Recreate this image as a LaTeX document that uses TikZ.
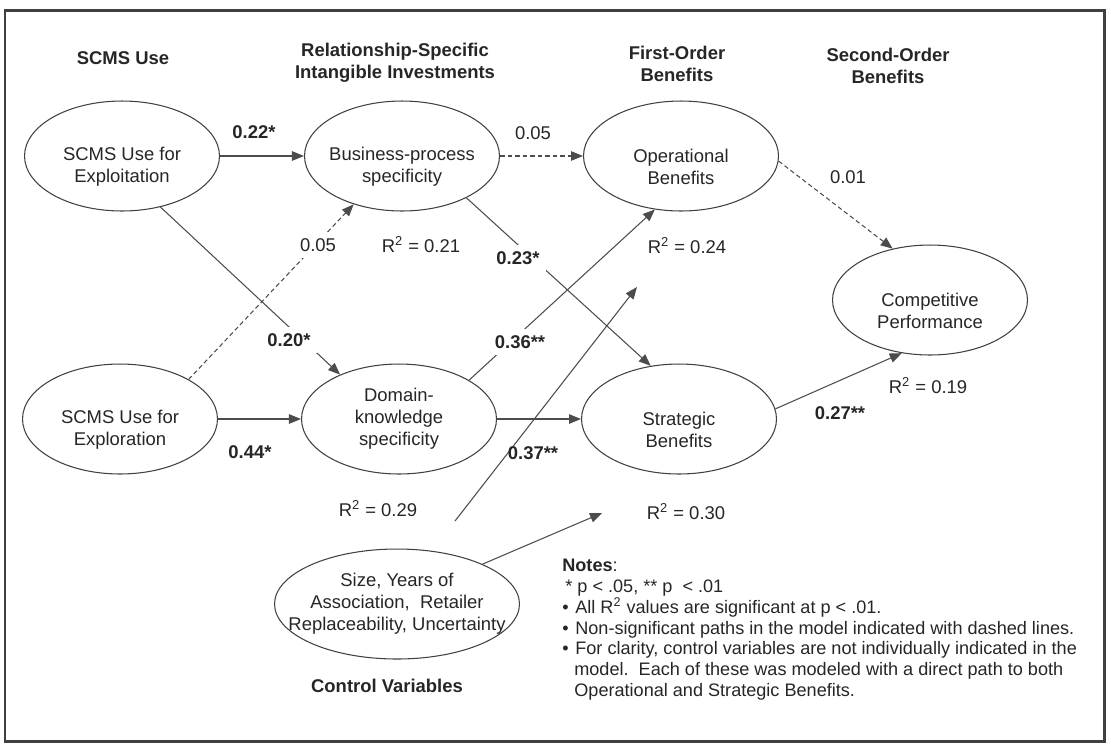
\documentclass[tikz,border=0pt]{standalone}
\usepackage{fontspec}
\setmainfont{Liberation Sans}
\usetikzlibrary{shapes.geometric,arrows.meta}

\tikzset{
  latent/.style={ellipse, draw=black!75, line width=0.6pt, minimum width=3.9cm, minimum height=2.2cm, inner sep=0pt},
  inside/.style={align=center, text=black!85},
  twoline/.style={inside, yshift=-0.22cm},
  head/.style={align=center, font=\bfseries, text=black!85},
  link/.style={draw=black!70, line width=0.6pt, -{Triangle[length=0.24cm,width=0.19cm]}},
  nslink/.style={link, dash pattern=on 0.09cm off 0.06cm},
  coef/.style={font=\bfseries, text=black!85},
  nscoef/.style={text=black!85},
  rsq/.style={text=black!85},
  notes/.style={align=left, text=black!85, font=\fontsize{10.3}{11.8}\selectfont, inner sep=0pt}
}

\begin{document}
\fontsize{10.5}{12.5}\selectfont
\begin{tikzpicture}[x=0.02cm, y=-0.02cm]
            \useasboundingbox (0,0) rectangle (1111,745);
            \draw[line width=0.06cm, black!75] (5,10) rectangle (1104,741);
            % Column headings
            \node[head] (hUse) at (123,58) {SCMS Use};
            \node[head] (hInvest) at (395,63) {Relationship-Specific\\Intangible Investments};
            \node[head] (hFirst) at (677,64) {First-Order\\Benefits};
            \node[head] (hSecond) at (888,66) {Second-Order\\Benefits};
            \node[head] (hControl) at (387,686) {Control Variables};
            % Constructs
            \node[latent, label={[twoline]center:{SCMS Use for\\Exploitation}}] (exploit) at (122,156) {};
            \node[latent, label={[twoline]center:{Business-process\\specificity}}] (busproc) at (402,156) {};
            \node[latent, label={[twoline]center:{Operational\\Benefits}}] (operben) at (681,156) {};
            \node[latent, label={[twoline]center:{Competitive\\Performance}}] (compperf) at (930,300) {};
            \node[latent, label={[twoline]center:{SCMS Use for\\Exploration}}] (explore) at (120,419) {};
            \node[latent, label={[inside]center:{Domain-\\knowledge\\specificity}}] (domain) at (399,419) {};
            \node[latent, label={[twoline]center:{Strategic\\Benefits}}] (stratben) at (679,419) {};
            \node[latent, minimum width=4.9cm, label={[inside]center:{Size, Years of\\Association,\ \ Retailer\\Replaceability, Uncertainty}}] (controls) at (397,604) {};
            % Straight paths
            \draw[link] (exploit.east) -- (busproc.west);
            \draw[nslink] (busproc.east) -- (operben.west);
            \draw[link] (explore.east) -- (domain.west);
            \draw[link] (domain.east) -- (stratben.west);
            % Crossing paths
            \draw[link] (exploit.-53) -- (domain.143);
            \draw[nslink] (explore.30) -- (busproc.225);
            \draw[link] (busproc.-33) -- (stratben.118);
            \draw[link] (domain.29) -- (operben.244);
            \draw[nslink] (operben.-3) -- (compperf.126);
            \draw[link] (stratben.6) -- (compperf.242);
            % Control paths
            \coordinate (ctrlfoot) at (455,521);
            \coordinate (ctrlop) at (637,287);
            \coordinate (ctrlst) at (602,513);
            \draw[link] (ctrlfoot) -- (ctrlop);
            \draw[link] (controls.25) -- (ctrlst);
            % Path coefficients
            \node[coef] (c22) at (254,132) {0.22*};
            \node[nscoef] (c05a) at (533,133) {0.05};
            \node[nscoef] (c01) at (848,177) {0.01};
            \node[nscoef, fill=white] (c05b) at (318,245) {0.05};
            \node[coef, fill=white] (c20) at (289,340) {0.20*};
            \node[coef, fill=white] (c23) at (518,258) {0.23*};
            \node[coef, fill=white] (c36) at (520,342) {0.36**};
            \node[coef] (c44) at (250,452) {0.44*};
            \node[coef] (c37) at (533,453) {0.37**};
            \node[coef] (c27) at (840,413) {0.27**};
            % Explained variance
            \node[rsq] (r21) at (421,245) {R\textsuperscript{2} = 0.21};
            \node[rsq] (r24) at (687,246) {R\textsuperscript{2} = 0.24};
            \node[rsq] (r19) at (928,386) {R\textsuperscript{2} = 0.19};
            \node[rsq] (r29) at (378,509) {R\textsuperscript{2} = 0.29};
            \node[rsq] (r30) at (686,512) {R\textsuperscript{2} = 0.30};
            % Notes
            \node[notes, anchor=north west] (notes) at (562,559) {\textbf{Notes}:\\
              \hspace*{0.06cm}* p < .05, ** p \ < .01\\
              \makebox[0.26cm][l]{\textbullet}All R\textsuperscript{2} values are significant at p < .01.\\
              \makebox[0.26cm][l]{\textbullet}Non-significant paths in the model indicated with dashed lines.\\
              \makebox[0.26cm][l]{\textbullet}For clarity, control variables are not individually indicated in the\\
              \hspace*{0.24cm}model.\ \ Each of these was modeled with a direct path to both\\
              \hspace*{0.24cm}Operational and Strategic Benefits.};
        \end{tikzpicture}
\end{document}
